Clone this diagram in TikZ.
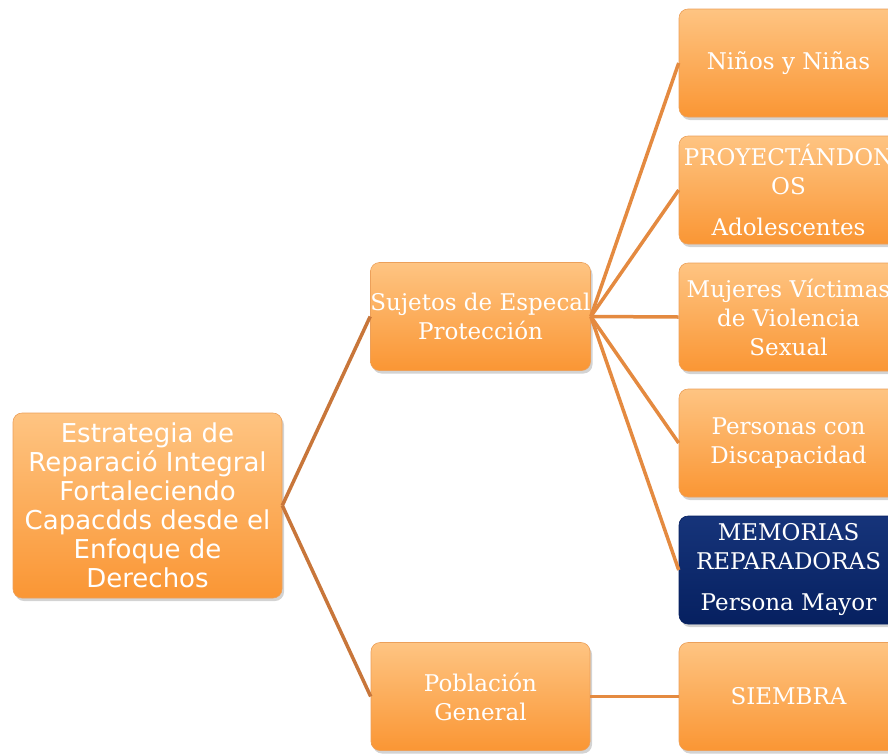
\documentclass[tikz,border=0pt]{standalone}
\usepackage{fontspec}
\setmainfont{DejaVu Serif}
\newfontfamily\rootfont{DejaVu Sans}
\usetikzlibrary{shadows}
\definecolor{boxtop}{RGB}{254,196,130}
\definecolor{boxbot}{RGB}{250,150,52}
\definecolor{boxedge}{RGB}{236,160,90}
\definecolor{navytop}{RGB}{22,52,122}
\definecolor{navybot}{RGB}{6,32,96}
\definecolor{linkdark}{RGB}{200,118,58}
\definecolor{linklight}{RGB}{228,138,64}
\tikzset{
  orangebox/.style={rectangle, rounded corners=9pt, minimum width=219pt, minimum height=108pt,
    inner sep=0pt, align=center, text=white, top color=boxtop, bottom color=boxbot,
    draw=boxedge, line width=0.6pt,
    drop shadow={shadow xshift=2pt, shadow yshift=-3pt, opacity=0.35}},
  navybox/.style={orangebox, top color=navytop, bottom color=navybot, draw=navybot},
  serif/.style={font=\fontsize{23}{29}\selectfont},
  link/.style={line width=3.5pt, linklight},
  rootlink/.style={line width=3.5pt, linkdark}
}
\begin{document}
\begin{tikzpicture}[x=1pt, y=-1pt]
  \useasboundingbox (0,0) rectangle (888,753);
  \clip (0,0) rectangle (888,753);
  % first level
  \node[orangebox, minimum width=269pt, minimum height=185pt, font=\rootfont\fontsize{26}{29}\selectfont]
    (estrategia) at (147.5,505.5) {Estrategia de\\Reparació Integral\\Fortaleciendo\\Capacdds desde el\\Enfoque de\\Derechos};
  % second level
  \node[orangebox, serif] (sujetos) at (480.5,316.5) {Sujetos de Especal\\Protección};
  \node[orangebox, serif] (poblacion) at (480.5,696.5) {Población\\General};
  % third level
  \node[orangebox, serif] (ninos) at (788.5,63) {Niños y Niñas};
  \node[orangebox, serif] (proyect) at (788.5,190) {PROYECTÁNDON\\OS\\[12pt]Adolescentes};
  \node[orangebox, serif] (mujeres) at (788.5,317) {Mujeres Víctimas\\de Violencia\\Sexual};
  \node[orangebox, serif] (personas) at (788.5,443) {Personas con\\Discapacidad};
  \node[navybox, serif] (memorias) at (788.5,570) {MEMORIAS\\REPARADORAS\\[12pt]Persona Mayor};
  \node[orangebox, serif] (siembra) at (788.5,696.5) {SIEMBRA};
  % connectors
  \draw[rootlink] (estrategia.east) -- (sujetos.west);
  \draw[rootlink] (estrategia.east) -- (poblacion.west);
  \foreach \leaf in {ninos,proyect,mujeres,personas,memorias}
    \draw[link] (sujetos.east) -- (\leaf.west);
  \draw[link] (poblacion.east) -- (siembra.west);
\end{tikzpicture}
\end{document}
